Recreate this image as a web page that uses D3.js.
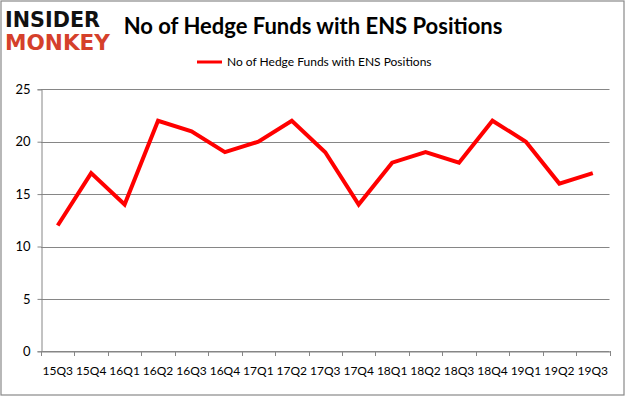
<!DOCTYPE html>
<html><head><meta charset="utf-8">
<script src="https://cdn.jsdelivr.net/npm/d3@7"></script>
<style>body{margin:0;background:#fff}svg{display:block}</style>
</head><body>
<svg id="c" width="626" height="397"></svg>
<script>
const categories = ["15Q3","15Q4","16Q1","16Q2","16Q3","16Q4","17Q1","17Q2","17Q3","17Q4","18Q1","18Q2","18Q3","18Q4","19Q1","19Q2","19Q3"];
const values = [12,17,14,22,21,19,20,22,19,14,18,19,18,22,20,16,17];
const yTicks = [0,5,10,15,20,25];
const seriesName = "No of Hedge Funds with ENS Positions";
const titleText = "No of Hedge Funds with ENS Positions";

const svg = d3.select("#c");
const font = "Lato, 'Open Sans', sans-serif";
const W = 626, H = 397;
const m = {l:41, r:609.5, t:89.3, b:351.3};

svg.append("rect").attr("x",1).attr("y",1).attr("width",W-3).attr("height",H-3)
  .attr("fill","#fff").attr("stroke","#898989").attr("stroke-width",1.2);

const x = d3.scaleBand().domain(categories).range([m.l, m.r]).padding(0);
const y = d3.scaleLinear().domain([0,25]).range([m.b, m.t]);

// gridlines
svg.append("g").selectAll("line").data(yTicks).join("line")
  .attr("x1",m.l).attr("x2",m.r).attr("y1",d=>Math.round(y(d))+0.5).attr("y2",d=>Math.round(y(d))+0.5)
  .attr("stroke","#868686").attr("stroke-width",1);

// y axis
const ya = svg.append("g").attr("transform",`translate(${Math.round(m.l)+0.5},0)`)
  .call(d3.axisLeft(y).tickValues(yTicks).tickSize(4).tickPadding(7));
ya.select(".domain").attr("stroke","#868686");
ya.selectAll(".tick line").attr("stroke","#868686");
ya.selectAll("text").attr("font-family",font).attr("font-size",13).attr("fill","#000");

// x axis
const xa = svg.append("g").attr("transform",`translate(0,${Math.round(m.b)+0.5})`)
  .call(d3.axisBottom(x).tickSize(0).tickPadding(15));
xa.select(".domain").attr("stroke","#868686");
xa.selectAll("text").attr("font-family",font).attr("font-size",12).attr("fill","#000");
// boundary ticks
const bounds = categories.map(c=>x(c)).concat([x.range()[1]]);
svg.append("g").selectAll("line").data(bounds).join("line")
  .attr("x1",d=>Math.round(d)+0.5).attr("x2",d=>Math.round(d)+0.5)
  .attr("y1",Math.round(m.b)).attr("y2",Math.round(m.b)+5)
  .attr("stroke","#868686");

// line
const line = d3.line().x((d,i)=>x(categories[i])+x.bandwidth()/2).y(d=>y(d));
svg.append("path").datum(values).attr("d",line).attr("fill","none")
  .attr("stroke","#ff0000").attr("stroke-width",4).attr("stroke-linejoin","miter");

// title
svg.append("text").attr("x",313).attr("y",34).attr("text-anchor","middle")
  .attr("font-family",font).attr("font-weight","bold").attr("font-size",22)
  .text(titleText);

// legend
svg.append("line").attr("x1",197).attr("x2",222).attr("y1",62).attr("y2",62)
  .attr("stroke","#ff0000").attr("stroke-width",3);
svg.append("text").attr("x",227).attr("y",66).attr("font-family",font).attr("font-size",12)
  .text(seriesName);

// logo
svg.append("text").attr("transform","translate(5,27) scale(1,1.3)").attr("font-family","'DejaVu Sans', sans-serif")
  .attr("font-weight","bold").attr("font-size",16).attr("textLength",95).attr("lengthAdjust","spacingAndGlyphs")
  .attr("fill","#111").text("INSIDER");
svg.append("text").attr("transform","translate(5,50) scale(1,1.3)").attr("font-family","'DejaVu Sans', sans-serif")
  .attr("font-weight","bold").attr("font-size",16).attr("textLength",105).attr("lengthAdjust","spacingAndGlyphs")
  .attr("fill","#d5402b").text("MONKEY");
</script>
</body></html>
